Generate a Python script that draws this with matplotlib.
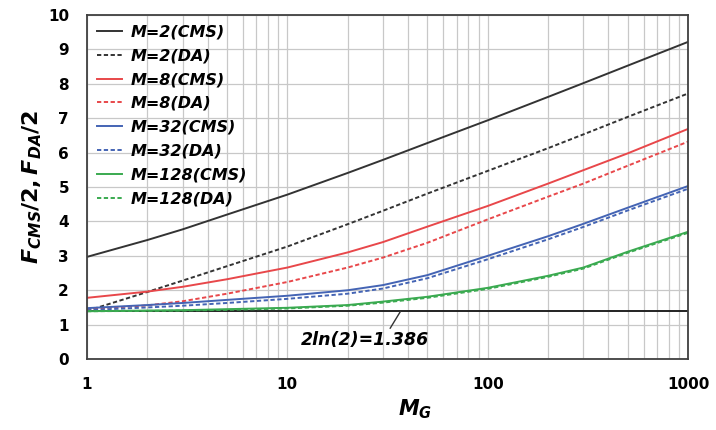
import numpy as np
import matplotlib
matplotlib.use("Agg")
import matplotlib.pyplot as plt

# Gain values along the x axis (log scale)
m_g = [1, 2, 3, 5, 10, 20, 30, 50, 100, 200, 300, 500, 1000]

# F/2, one list per curve
m2_cms = [2.97, 3.46, 3.77, 4.20, 4.78, 5.41, 5.79, 6.28, 6.94, 7.62, 8.02, 8.53, 9.22]
m2_da = [1.40, 1.95, 2.28, 2.70, 3.27, 3.92, 4.31, 4.81, 5.47, 6.13, 6.53, 7.04, 7.72]
m8_cms = [1.78, 1.96, 2.10, 2.32, 2.66, 3.10, 3.40, 3.85, 4.45, 5.10, 5.49, 5.98, 6.69]
m8_da = [1.45, 1.56, 1.68, 1.90, 2.24, 2.66, 2.95, 3.38, 4.06, 4.72, 5.10, 5.62, 6.32]
m32_cms = [1.48, 1.57, 1.63, 1.72, 1.84, 2.00, 2.15, 2.44, 3.00, 3.57, 3.93, 4.40, 5.03]
m32_da = [1.42, 1.50, 1.55, 1.63, 1.75, 1.90, 2.05, 2.35, 2.90, 3.48, 3.84, 4.32, 4.95]
m128_cms = [1.39, 1.41, 1.42, 1.45, 1.49, 1.57, 1.67, 1.81, 2.07, 2.42, 2.66, 3.12, 3.70]
m128_da = [1.39, 1.40, 1.41, 1.43, 1.47, 1.55, 1.64, 1.78, 2.04, 2.39, 2.63, 3.09, 3.67]

series_labels = ["M=2(CMS)", "M=2(DA)", "M=8(CMS)", "M=8(DA)",
                 "M=32(CMS)", "M=32(DA)", "M=128(CMS)", "M=128(DA)"]

limit_value = 2 * np.log(2)
limit_label = "2ln(2)=1.386"

COLORS = {2: "#333333", 8: "#e8474a", 32: "#4464b4", 128: "#3aaa50"}
BOLD_IT = {"family": "DejaVu Sans", "weight": "bold", "style": "italic"}

plt.rcParams["mathtext.fontset"] = "custom"
plt.rcParams["mathtext.it"] = "DejaVu Sans:italic:bold"
plt.rcParams["mathtext.rm"] = "DejaVu Sans:bold"

fig = plt.figure(figsize=(7.16, 4.30), dpi=100)
ax = fig.add_axes([0.1215, 0.165, 0.8395, 0.8])

curves = [(2, m2_cms, m2_da), (8, m8_cms, m8_da),
          (32, m32_cms, m32_da), (128, m128_cms, m128_da)]
i = 0
for m, cms, da in curves:
    ax.plot(m_g, cms, color=COLORS[m], lw=1.4, label=series_labels[i])
    ax.plot(m_g, da, color=COLORS[m], lw=1.4, dashes=(2.2, 1.3),
            label=series_labels[i + 1])
    i += 2

ax.axhline(limit_value, color="#222222", lw=1.4, zorder=1)

ax.set_xscale("log")
ax.set_xlim(1, 1000)
ax.set_ylim(0, 10)
ax.set_yticks(range(0, 11))
ax.set_xticks([1, 10, 100, 1000])
ax.set_xticklabels(["1", "10", "100", "1000"])

ax.grid(True, which="major", color="#c8c8c8", lw=0.9)
ax.grid(True, which="minor", axis="x", color="#c8c8c8", lw=0.9)
ax.set_axisbelow(True)
ax.tick_params(which="both", length=0, pad=13, labelsize=11)
for lab in ax.get_xticklabels() + ax.get_yticklabels():
    lab.set_fontweight("bold")
    lab.set_family("DejaVu Sans")
for sp in ax.spines.values():
    sp.set_color("#404040")
    sp.set_linewidth(1.3)

ax.set_xlabel(r"$\mathit{M_G}$", fontsize=15, x=0.545, labelpad=4)
ax.set_ylabel(r"$\mathit{F_{CMS}/2,F_{DA}/2}$", fontsize=16, labelpad=3)

ax.annotate(limit_label, xy=(36.7, limit_value), xytext=(24.5, 0.55),
            ha="center", va="center", fontsize=12.5, **BOLD_IT,
            arrowprops=dict(arrowstyle="-", color="#333333", lw=1,
                            shrinkA=0, shrinkB=0, relpos=(0.68, 1.0)))

ax.legend(loc="upper left", frameon=False, prop=dict(size=11.5, **BOLD_IT),
          handlelength=1.6, handletextpad=0.55, labelspacing=0.55,
          borderpad=0.4, borderaxespad=0.2)

fig.savefig("out.png", dpi=100)
